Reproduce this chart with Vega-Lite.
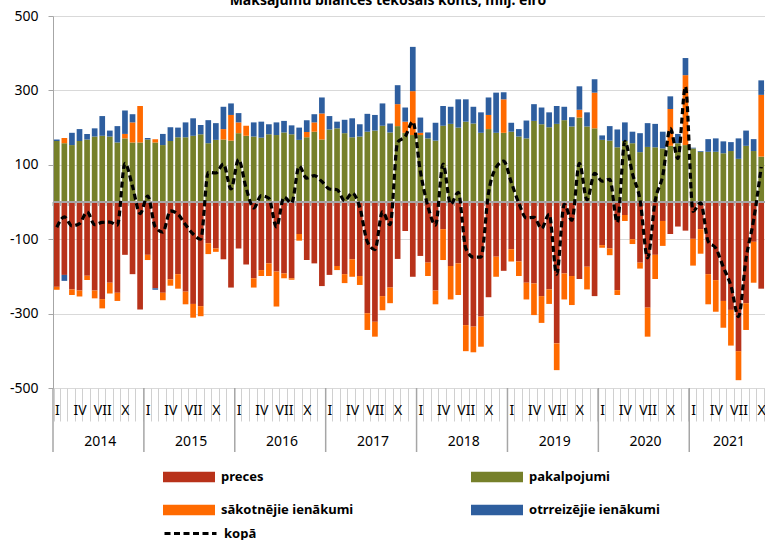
{
  "$schema": "https://vega.github.io/schema/vega-lite/v6.json",
  "width": 712,
  "height": 372,
  "autosize": {"type": "none"},
  "padding": {"left": 53, "top": 16, "right": 0, "bottom": 152},
  "background": "white",
  "config": {
    "font": "Noto Sans",
    "view": {"stroke": null},
    "axis": {"labelFont": "Noto Sans", "labelFontSize": 14, "labelColor": "#000"},
    "legend": {"labelFont": "Noto Sans", "labelColor": "#000"}
  },
  "title": {
    "text": "Maksājumu bilances tekošais konts, milj. eiro",
    "font": "Noto Sans", "fontSize": 14, "fontWeight": "bold", "color": "#000",
    "anchor": "middle", "dx": -21, "offset": 1
  },
  "data": {"values": [
    {"m":"2014-01","preces":-228,"pakalpojumi":164,"sākotnējie ienākumi":-8,"otrreizējie ienākumi":4,"kopā":-68},
    {"m":"2014-02","preces":-196,"pakalpojumi":158,"sākotnējie ienākumi":14,"otrreizējie ienākumi":-16,"kopā":-40},
    {"m":"2014-03","preces":-235,"pakalpojumi":153,"sākotnējie ienākumi":-15,"otrreizējie ienākumi":33,"kopā":-64},
    {"m":"2014-04","preces":-238,"pakalpojumi":164,"sākotnējie ienākumi":-16,"otrreizējie ienākumi":32,"kopā":-58},
    {"m":"2014-05","preces":-198,"pakalpojumi":168,"sākotnējie ienākumi":-12,"otrreizējie ienākumi":15,"kopā":-27},
    {"m":"2014-06","preces":-238,"pakalpojumi":176,"sākotnējie ienākumi":-21,"otrreizējie ienākumi":22,"kopā":-61},
    {"m":"2014-07","preces":-261,"pakalpojumi":178,"sākotnējie ienākumi":-25,"otrreizējie ienākumi":53,"kopā":-55},
    {"m":"2014-08","preces":-217,"pakalpojumi":176,"sākotnējie ienākumi":-29,"otrreizējie ienākumi":16,"kopā":-54},
    {"m":"2014-09","preces":-244,"pakalpojumi":160,"sākotnējie ienākumi":-22,"otrreizējie ienākumi":44,"kopā":-62},
    {"m":"2014-10","preces":-142,"pakalpojumi":171,"sākotnējie ienākumi":12,"otrreizējie ienākumi":63,"kopā":104},
    {"m":"2014-11","preces":-194,"pakalpojumi":160,"sākotnējie ienākumi":54,"otrreizējie ienākumi":22,"kopā":42},
    {"m":"2014-12","preces":-289,"pakalpojumi":160,"sākotnējie ienākumi":98,"otrreizējie ienākumi":0,"kopā":-31},
    {"m":"2015-01","preces":-142,"pakalpojumi":168,"sākotnējie ienākumi":-14,"otrreizējie ienākumi":4,"kopā":16},
    {"m":"2015-02","preces":-232,"pakalpojumi":160,"sākotnējie ienākumi":9,"otrreizējie ienākumi":-4,"kopā":-67},
    {"m":"2015-03","preces":-244,"pakalpojumi":153,"sākotnējie ienākumi":-20,"otrreizējie ienākumi":30,"kopā":-81},
    {"m":"2015-04","preces":-208,"pakalpojumi":164,"sākotnējie ienākumi":-17,"otrreizējie ienākumi":37,"kopā":-24},
    {"m":"2015-05","preces":-194,"pakalpojumi":174,"sākotnējie ienākumi":-39,"otrreizējie ienākumi":26,"kopā":-33},
    {"m":"2015-06","preces":-241,"pakalpojumi":174,"sākotnējie ienākumi":-34,"otrreizējie ienākumi":40,"kopā":-61},
    {"m":"2015-07","preces":-274,"pakalpojumi":178,"sākotnējie ienākumi":-37,"otrreizējie ienākumi":47,"kopā":-86},
    {"m":"2015-08","preces":-280,"pakalpojumi":182,"sākotnējie ienākumi":-27,"otrreizējie ienākumi":25,"kopā":-100},
    {"m":"2015-09","preces":-111,"pakalpojumi":158,"sākotnējie ienākumi":-29,"otrreizējie ienākumi":62,"kopā":80},
    {"m":"2015-10","preces":-125,"pakalpojumi":167,"sākotnējie ienākumi":-9,"otrreizējie ienākumi":45,"kopā":78},
    {"m":"2015-11","preces":-154,"pakalpojumi":168,"sākotnējie ienākumi":28,"otrreizējie ienākumi":60,"kopā":102},
    {"m":"2015-12","preces":-230,"pakalpojumi":165,"sākotnējie ienākumi":69,"otrreizējie ienākumi":31,"kopā":35},
    {"m":"2016-01","preces":-125,"pakalpojumi":185,"sākotnējie ienākumi":29,"otrreizējie ienākumi":25,"kopā":114},
    {"m":"2016-02","preces":-168,"pakalpojumi":178,"sākotnējie ienākumi":27,"otrreizējie ienākumi":0,"kopā":37},
    {"m":"2016-03","preces":-205,"pakalpojumi":176,"sākotnējie ienākumi":-25,"otrreizējie ienākumi":38,"kopā":-16},
    {"m":"2016-04","preces":-183,"pakalpojumi":173,"sākotnējie ienākumi":-16,"otrreizējie ienākumi":43,"kopā":17},
    {"m":"2016-05","preces":-165,"pakalpojumi":182,"sākotnējie ienākumi":-34,"otrreizējie ienākumi":27,"kopā":10},
    {"m":"2016-06","preces":-187,"pakalpojumi":180,"sākotnējie ienākumi":-94,"otrreizējie ienākumi":34,"kopā":-67},
    {"m":"2016-07","preces":-192,"pakalpojumi":187,"sākotnējie ienākumi":-13,"otrreizējie ienākumi":31,"kopā":13},
    {"m":"2016-08","preces":-205,"pakalpojumi":182,"sākotnējie ienākumi":-4,"otrreizējie ienākumi":24,"kopā":-3},
    {"m":"2016-09","preces":-86,"pakalpojumi":167,"sākotnējie ienākumi":-18,"otrreizējie ienākumi":33,"kopā":96},
    {"m":"2016-10","preces":-156,"pakalpojumi":174,"sākotnējie ienākumi":14,"otrreizējie ienākumi":32,"kopā":64},
    {"m":"2016-11","preces":-165,"pakalpojumi":189,"sākotnējie ienākumi":25,"otrreizējie ienākumi":22,"kopā":71},
    {"m":"2016-12","preces":-226,"pakalpojumi":168,"sākotnējie ienākumi":70,"otrreizējie ienākumi":43,"kopā":55},
    {"m":"2017-01","preces":-196,"pakalpojumi":195,"sākotnējie ienākumi":0,"otrreizējie ienākumi":36,"kopā":35},
    {"m":"2017-02","preces":-172,"pakalpojumi":198,"sākotnējie ienākumi":-11,"otrreizējie ienākumi":18,"kopā":33},
    {"m":"2017-03","preces":-194,"pakalpojumi":185,"sākotnējie ienākumi":-24,"otrreizējie ienākumi":36,"kopā":3},
    {"m":"2017-04","preces":-154,"pakalpojumi":174,"sākotnējie ienākumi":-47,"otrreizējie ienākumi":51,"kopā":24},
    {"m":"2017-05","preces":-199,"pakalpojumi":176,"sākotnējie ienākumi":-24,"otrreizējie ienākumi":33,"kopā":-14},
    {"m":"2017-06","preces":-299,"pakalpojumi":189,"sākotnējie ienākumi":-45,"otrreizējie ienākumi":48,"kopā":-107},
    {"m":"2017-07","preces":-322,"pakalpojumi":192,"sākotnējie ienākumi":-40,"otrreizējie ienākumi":42,"kopā":-128},
    {"m":"2017-08","preces":-253,"pakalpojumi":205,"sākotnējie ienākumi":-38,"otrreizējie ienākumi":60,"kopā":-26},
    {"m":"2017-09","preces":-230,"pakalpojumi":187,"sākotnējie ienākumi":-42,"otrreizējie ienākumi":24,"kopā":-61},
    {"m":"2017-10","preces":-153,"pakalpojumi":204,"sākotnējie ienākumi":59,"otrreizējie ienākumi":51,"kopā":161},
    {"m":"2017-11","preces":-78,"pakalpojumi":186,"sākotnējie ienākumi":30,"otrreizējie ienākumi":38,"kopā":176},
    {"m":"2017-12","preces":-201,"pakalpojumi":180,"sākotnējie ienākumi":118,"otrreizējie ienākumi":119,"kopā":216},
    {"m":"2018-01","preces":-145,"pakalpojumi":180,"sākotnējie ienākumi":6,"otrreizējie ienākumi":41,"kopā":82},
    {"m":"2018-02","preces":-163,"pakalpojumi":171,"sākotnējie ienākumi":-36,"otrreizējie ienākumi":16,"kopā":-12},
    {"m":"2018-03","preces":-238,"pakalpojumi":165,"sākotnējie ienākumi":-37,"otrreizējie ienākumi":48,"kopā":-62},
    {"m":"2018-04","preces":-73,"pakalpojumi":205,"sākotnējie ienākumi":-83,"otrreizējie ienākumi":53,"kopā":102},
    {"m":"2018-05","preces":-172,"pakalpojumi":210,"sākotnējie ienākumi":-90,"otrreizējie ienākumi":46,"kopā":-6},
    {"m":"2018-06","preces":-165,"pakalpojumi":200,"sākotnējie ienākumi":-85,"otrreizējie ienākumi":76,"kopā":26},
    {"m":"2018-07","preces":-331,"pakalpojumi":216,"sākotnējie ienākumi":-70,"otrreizējie ienākumi":60,"kopā":-125},
    {"m":"2018-08","preces":-335,"pakalpojumi":211,"sākotnējie ienākumi":-69,"otrreizējie ienākumi":45,"kopā":-148},
    {"m":"2018-09","preces":-308,"pakalpojumi":186,"sākotnējie ienākumi":-81,"otrreizējie ienākumi":55,"kopā":-148},
    {"m":"2018-10","preces":-256,"pakalpojumi":196,"sākotnējie ienākumi":38,"otrreizējie ienākumi":47,"kopā":25},
    {"m":"2018-11","preces":-147,"pakalpojumi":186,"sākotnējie ienākumi":-54,"otrreizējie ienākumi":108,"kopā":93},
    {"m":"2018-12","preces":-185,"pakalpojumi":186,"sākotnējie ienākumi":90,"otrreizējie ienākumi":19,"kopā":110},
    {"m":"2019-01","preces":-127,"pakalpojumi":189,"sākotnējie ienākumi":-33,"otrreizējie ienākumi":24,"kopā":53},
    {"m":"2019-02","preces":-160,"pakalpojumi":176,"sākotnējie ienākumi":-39,"otrreizējie ienākumi":20,"kopā":-3},
    {"m":"2019-03","preces":-217,"pakalpojumi":171,"sākotnējie ienākumi":-45,"otrreizējie ienākumi":48,"kopā":-43},
    {"m":"2019-04","preces":-219,"pakalpojumi":218,"sākotnējie ienākumi":-85,"otrreizējie ienākumi":45,"kopā":-41},
    {"m":"2019-05","preces":-253,"pakalpojumi":209,"sākotnējie ienākumi":-72,"otrreizējie ienākumi":45,"kopā":-71},
    {"m":"2019-06","preces":-235,"pakalpojumi":201,"sākotnējie ienākumi":-39,"otrreizējie ienākumi":40,"kopā":-33},
    {"m":"2019-07","preces":-380,"pakalpojumi":210,"sākotnējie ienākumi":-72,"otrreizējie ienākumi":48,"kopā":-194},
    {"m":"2019-08","preces":-192,"pakalpojumi":220,"sākotnējie ienākumi":-70,"otrreizējie ienākumi":36,"kopā":-6},
    {"m":"2019-09","preces":-199,"pakalpojumi":203,"sākotnējie ienākumi":-78,"otrreizējie ienākumi":25,"kopā":-49},
    {"m":"2019-10","preces":-207,"pakalpojumi":227,"sākotnējie ienākumi":21,"otrreizējie ienākumi":63,"kopā":104},
    {"m":"2019-11","preces":-174,"pakalpojumi":203,"sākotnējie ienākumi":-61,"otrreizējie ienākumi":38,"kopā":6},
    {"m":"2019-12","preces":-253,"pakalpojumi":198,"sākotnējie ienākumi":96,"otrreizējie ienākumi":36,"kopā":77},
    {"m":"2020-01","preces":-116,"pakalpojumi":167,"sākotnējie ienākumi":-7,"otrreizējie ienākumi":12,"kopā":56},
    {"m":"2020-02","preces":-125,"pakalpojumi":165,"sākotnējie ienākumi":-18,"otrreizējie ienākumi":39,"kopā":61},
    {"m":"2020-03","preces":-237,"pakalpojumi":147,"sākotnējie ienākumi":-13,"otrreizējie ienākumi":48,"kopā":-55},
    {"m":"2020-04","preces":-35,"pakalpojumi":164,"sākotnējie ienākumi":-16,"otrreizējie ienākumi":50,"kopā":163},
    {"m":"2020-05","preces":-100,"pakalpojumi":158,"sākotnējie ienākumi":-13,"otrreizējie ienākumi":31,"kopā":76},
    {"m":"2020-06","preces":-163,"pakalpojumi":134,"sākotnējie ienākumi":-16,"otrreizējie ienākumi":51,"kopā":6},
    {"m":"2020-07","preces":-284,"pakalpojumi":148,"sākotnējie ienākumi":-78,"otrreizējie ienākumi":64,"kopā":-150},
    {"m":"2020-08","preces":-142,"pakalpojumi":147,"sākotnējie ienākumi":-65,"otrreizējie ienākumi":63,"kopā":3},
    {"m":"2020-09","preces":-51,"pakalpojumi":144,"sākotnējie ienākumi":-67,"otrreizējie ienākumi":45,"kopā":71},
    {"m":"2020-10","preces":-86,"pakalpojumi":151,"sākotnējie ienākumi":99,"otrreizējie ienākumi":34,"kopā":198},
    {"m":"2020-11","preces":-66,"pakalpojumi":158,"sākotnējie ienākumi":0,"otrreizējie ienākumi":25,"kopā":117},
    {"m":"2020-12","preces":-77,"pakalpojumi":153,"sākotnējie ienākumi":188,"otrreizējie ienākumi":46,"kopā":310},
    {"m":"2021-01","preces":-99,"pakalpojumi":144,"sākotnējie ienākumi":-72,"otrreizējie ienākumi":2,"kopā":-25},
    {"m":"2021-02","preces":-73,"pakalpojumi":135,"sākotnējie ienākumi":-66,"otrreizējie ienākumi":2,"kopā":-2},
    {"m":"2021-03","preces":-194,"pakalpojumi":135,"sākotnējie ienākumi":-81,"otrreizējie ienākumi":34,"kopā":-106},
    {"m":"2021-04","preces":-210,"pakalpojumi":135,"sākotnējie ienākumi":-85,"otrreizējie ienākumi":36,"kopā":-124},
    {"m":"2021-05","preces":-266,"pakalpojumi":131,"sākotnējie ienākumi":-72,"otrreizējie ienākumi":32,"kopā":-175},
    {"m":"2021-06","preces":-290,"pakalpojumi":137,"sākotnējie ienākumi":-96,"otrreizējie ienākumi":24,"kopā":-225},
    {"m":"2021-07","preces":-401,"pakalpojumi":116,"sākotnējie ienākumi":-78,"otrreizējie ienākumi":55,"kopā":-308},
    {"m":"2021-08","preces":-272,"pakalpojumi":151,"sākotnējie ienākumi":-72,"otrreizējie ienākumi":41,"kopā":-152},
    {"m":"2021-09","preces":-107,"pakalpojumi":137,"sākotnējie ienākumi":-110,"otrreizējie ienākumi":32,"kopā":-48},
    {"m":"2021-10","preces":-233,"pakalpojumi":122,"sākotnējie ienākumi":166,"otrreizējie ienākumi":39,"kopā":94}
  ]},
  "layer": [
    {
      "transform": [
        {"fold": ["preces", "pakalpojumi", "sākotnējie ienākumi", "otrreizējie ienākumi"], "as": ["key", "value"]},
        {"calculate": "indexof(['preces','pakalpojumi','sākotnējie ienākumi','otrreizējie ienākumi'], datum.key)", "as": "ord"}
      ],
      "mark": {"type": "bar"},
      "encoding": {
        "x": {
          "field": "m", "type": "ordinal",
          "scale": {"paddingInner": 0.25, "paddingOuter": 0.125},
          "axis": {
            "orient": "bottom", "title": null, "domain": false, "grid": false,
            "ticks": true, "tickBand": "extent", "tickSize": 33, "tickColor": "#d0d0d0",
            "labelExpr": "!isString(datum.value) ? '' : (slice(datum.value,5)=='01'?'I':slice(datum.value,5)=='04'?'IV':slice(datum.value,5)=='07'?'VII':slice(datum.value,5)=='10'?'X':'')",
            "labelAngle": 0, "labelOverlap": false, "labelBaseline": "middle", "labelPadding": -11
          }
        },
        "y": {
          "field": "value", "type": "quantitative", "stack": "zero",
          "scale": {"domain": [-500, 500], "nice": false},
          "axis": {
            "title": null, "values": [-500, -400, -300, -200, -100, 0, 100, 200, 300, 400, 500],
            "labelExpr": "datum.value + ''", "labelOverlap": false,
            "grid": true, "gridColor": "#d9d9d9", "domainColor": "#a6a6a6", "tickColor": "#a6a6a6",
            "tickSize": 5, "labelPadding": 10
          }
        },
        "color": {
          "field": "key", "type": "nominal",
          "scale": {
            "domain": ["preces", "sākotnējie ienākumi", "pakalpojumi", "otrreizējie ienākumi"],
            "range": ["#B8321A", "#FF6A00", "#76802A", "#2E5E9E"]
          },
          "legend": {
            "orient": "none", "legendX": 110, "legendY": 435, "columns": 2, "columnPadding": 117,
            "rowPadding": -8, "title": null, "symbolType": "M-1,-0.2H1V0.2H-1Z", "symbolSize": 2704,
            "symbolStrokeWidth": 0, "labelFontWeight": "bold", "labelFontSize": 13, "labelOffset": 6, "padding": 0
          }
        },
        "order": {"field": "ord", "type": "quantitative"}
      }
    },
    {
      "mark": {"type": "rule", "color": "#a6a6a6", "strokeWidth": 1.5},
      "encoding": {"y": {"datum": 0}}
    },
    {
      "mark": {"type": "rule", "color": "#a6a6a6", "strokeWidth": 1, "xOffset": -0.95, "y2Offset": 4},
      "encoding": {
        "x": {"field": "m", "type": "ordinal", "bandPosition": 0},
        "y": {"datum": 0},
        "y2": {"datum": 0}
      }
    },
    {
      "transform": [
        {"fold": ["kopā"], "as": ["serija", "summa"]}
      ],
      "mark": {"type": "line", "color": "#000", "strokeWidth": 3.2, "interpolate": "monotone"},
      "encoding": {
        "x": {"field": "m", "type": "ordinal"},
        "y": {"field": "summa", "type": "quantitative"},
        "strokeDash": {
          "field": "serija", "type": "nominal",
          "scale": {"range": [[6, 3.5]]},
          "legend": {
            "orient": "none", "legendX": 110, "legendY": 490, "title": null, "symbolType": "stroke",
            "symbolSize": 2704, "symbolStrokeColor": "#000", "symbolStrokeWidth": 3,
            "labelFontWeight": "bold", "labelFontSize": 13, "labelOffset": 6, "padding": 0
          }
        }
      }
    },
    {
      "transform": [{"filter": "slice(datum.m,5)=='01'"}],
      "mark": {"type": "rule", "color": "#a6a6a6", "strokeWidth": 1.5, "xOffset": -0.95, "y2Offset": 64},
      "encoding": {
        "x": {"field": "m", "type": "ordinal", "bandPosition": 0},
        "y": {"datum": -500},
        "y2": {"datum": -500}
      }
    },
    {
      "transform": [
        {"filter": "(slice(datum.m,5)=='07' && slice(datum.m,0,4)!='2021') || datum.m=='2021-06'"},
        {"calculate": "slice(datum.m,0,4)", "as": "gads"}
      ],
      "mark": {"type": "text", "font": "Noto Sans", "fontSize": 14, "color": "#000", "baseline": "middle", "align": "center", "dx": -2, "dy": 54},
      "encoding": {
        "x": {"field": "m", "type": "ordinal"},
        "y": {"datum": -500},
        "text": {"field": "gads"}
      }
    }
  ]
}
